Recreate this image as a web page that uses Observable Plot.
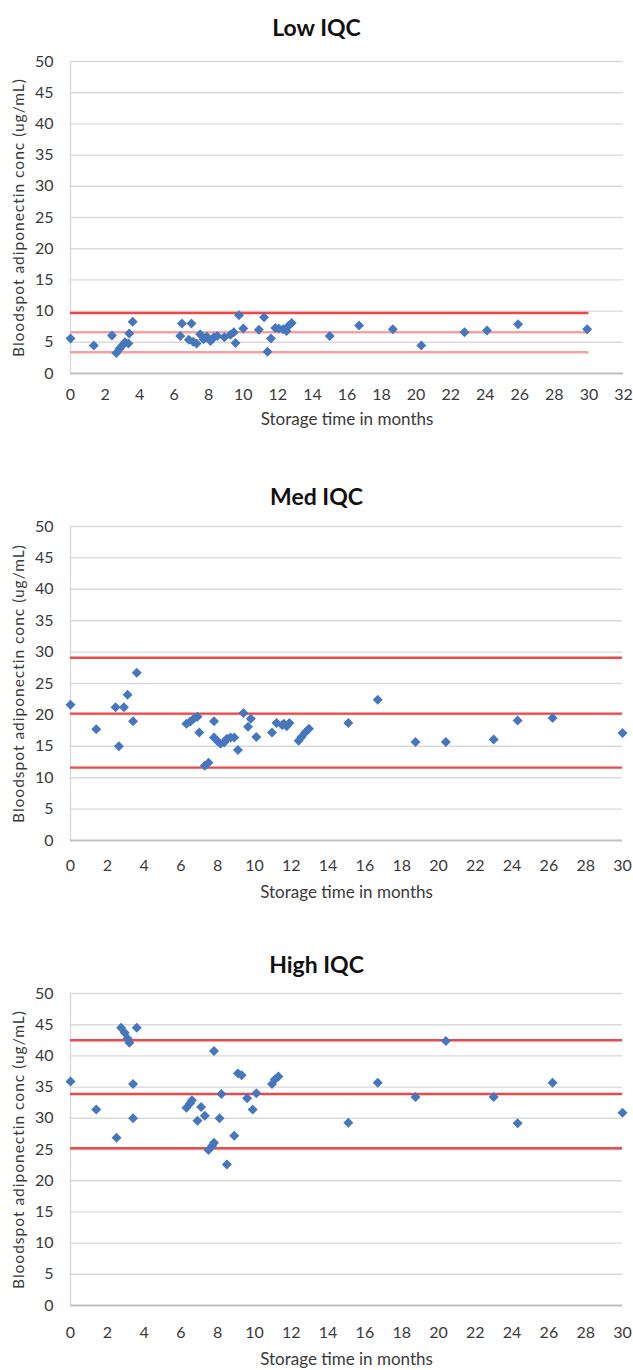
<!DOCTYPE html>
<html>
<head>
<meta charset="utf-8">
<script src="https://cdn.jsdelivr.net/npm/d3@7"></script>
<script src="https://cdn.jsdelivr.net/npm/@observablehq/plot@0.6"></script>
<style>
  body { margin: 0; background: #fff; }
  #wrap { position: relative; width: 633px; height: 1370px; font-family: Lato, "Open Sans", sans-serif; }
  .title { position: absolute; left: 0; width: 633px; text-align: center; font-weight: bold; font-size: 23px; color: #111; line-height: 1; }
  .panel { position: absolute; left: 0; }
  .ylab text { letter-spacing: 1px; }
</style>
</head>
<body>
<div id="wrap"></div>
<script>
// ---- data ----
const titles = ["Low IQC", "Med IQC", "High IQC"];
const yLabel = "Bloodspot adiponectin conc (ug/mL)";
const xLabel = "Storage time in months";
const yTicks = [0, 5, 10, 15, 20, 25, 30, 35, 40, 45, 50];
const xTicksLow = [0, 2, 4, 6, 8, 10, 12, 14, 16, 18, 20, 22, 24, 26, 28, 30, 32];
const xTicksMedHigh = [0, 2, 4, 6, 8, 10, 12, 14, 16, 18, 20, 22, 24, 26, 28, 30];

const lowX = [0, 1.35, 2.4, 2.65, 2.85, 3.0, 3.15, 3.35, 3.4, 3.6, 6.35, 6.45, 6.85, 7.0, 7.1, 7.3, 7.5, 7.7, 7.9, 8.1, 8.3, 8.5, 8.9, 9.25, 9.45, 9.55, 9.75, 10.0, 10.9, 11.2, 11.4, 11.6, 11.85, 12.05, 12.3, 12.5, 12.6, 12.8, 15.0, 16.7, 18.65, 20.3, 22.8, 24.1, 25.9, 29.9];
const lowY = [5.6, 4.5, 6.1, 3.3, 4.0, 4.5, 5.0, 4.8, 6.4, 8.3, 6.0, 8.0, 5.4, 8.0, 5.1, 4.8, 6.3, 5.5, 5.9, 5.2, 5.8, 6.0, 5.8, 6.2, 6.6, 4.9, 9.35, 7.2, 7.0, 9.0, 3.5, 5.6, 7.3, 7.2, 7.1, 6.8, 7.6, 8.1, 6.0, 7.7, 7.1, 4.5, 6.6, 6.9, 7.9, 7.1];

const medX = [0, 1.4, 2.45, 2.63, 2.9, 3.1, 3.4, 3.6, 6.3, 6.5, 6.7, 6.9, 7.0, 7.3, 7.5, 7.8, 7.8, 8.0, 8.15, 8.35, 8.5, 8.7, 8.9, 9.1, 9.4, 9.65, 9.8, 10.1, 10.95, 11.2, 11.5, 11.6, 11.75, 11.9, 12.4, 12.55, 12.75, 12.96, 15.1, 16.7, 18.75, 20.4, 23.0, 24.3, 26.2, 30.0];
const medY = [21.6, 17.7, 21.2, 15.0, 21.2, 23.2, 19.0, 26.7, 18.6, 18.9, 19.4, 19.7, 17.2, 11.9, 12.4, 19.0, 16.4, 15.8, 15.4, 15.6, 16.2, 16.4, 16.4, 14.4, 20.3, 18.1, 19.4, 16.5, 17.2, 18.7, 18.4, 18.6, 18.2, 18.7, 15.9, 16.5, 17.2, 17.8, 18.7, 22.4, 15.7, 15.7, 16.1, 19.1, 19.5, 17.1];

const highX = [0, 1.4, 2.5, 2.75, 2.95, 3.1, 3.2, 3.4, 3.4, 3.6, 6.3, 6.5, 6.6, 6.9, 7.1, 7.3, 7.5, 7.7, 7.8, 7.8, 8.1, 8.2, 8.5, 8.9, 9.1, 9.3, 9.6, 9.9, 10.1, 10.95, 11.1, 11.3, 15.1, 16.7, 18.75, 20.4, 23.0, 24.3, 26.2, 30.0];
const highY = [35.9, 31.4, 26.9, 44.5, 43.7, 42.8, 42.1, 35.5, 30.0, 44.5, 31.7, 32.4, 32.9, 29.6, 31.8, 30.4, 24.9, 25.6, 26.1, 40.8, 30.0, 33.9, 22.6, 27.2, 37.2, 36.9, 33.2, 31.4, 34.0, 35.5, 36.2, 36.7, 29.3, 35.7, 33.4, 42.4, 33.4, 29.2, 35.7, 30.9];

// control limits: upper, mean, lower
const lowLimits = [9.7, 6.6, 3.4];
const medLimits = [29.1, 20.2, 11.6];
const highLimits = [42.5, 33.9, 25.2];
const limitEnd = 30;
const lowLimitColors = ["#ec4a4a", "#f4a3a3", "#f4a3a3"];
const limitColors = ["#ec4a4a", "#ec4a4a", "#ec4a4a"];

// ---- layout ----
const panels = [
  {title: titles[0], xs: lowX, ys: lowY, limits: lowLimits, colors: lowLimitColors, xMax: 32, xTicks: xTicksLow,
   titleTop: 16, svgTop: 45, mt: 16, plotH: 312, mb: 67, mr: 10, tickPad: 15, xLabDy: 46},
  {title: titles[1], xs: medX, ys: medY, limits: medLimits, colors: limitColors, xMax: 30, xTicks: xTicksMedHigh,
   titleTop: 485, svgTop: 510, mt: 16, plotH: 314, mb: 70, mr: 11, tickPad: 19, xLabDy: 52},
  {title: titles[2], xs: highX, ys: highY, limits: highLimits, colors: limitColors, xMax: 30, xTicks: xTicksMedHigh,
   titleTop: 953, svgTop: 977, mt: 16, plotH: 312, mb: 65, mr: 11, tickPad: 21, xLabDy: 54}
];

const wrap = document.getElementById("wrap");
for (const p of panels) {
  const t = document.createElement("div");
  t.className = "title";
  t.style.top = p.titleTop + "px";
  t.textContent = p.title;
  wrap.appendChild(t);

  const pts = p.xs.map((x, i) => ({x, y: p.ys[i]}));
  const lims = p.limits.map((v, i) => ({v, c: p.colors[i]}));
  const chart = Plot.plot({
    width: 633,
    height: p.mt + p.plotH + p.mb,
    marginLeft: 70, marginRight: p.mr, marginTop: p.mt, marginBottom: p.mb,
    style: {fontFamily: "Lato, 'Open Sans', sans-serif", fontSize: "16px", color: "#3a3a3a", background: "#fff", overflow: "visible"},
    x: {domain: [0, p.xMax]},
    y: {domain: [0, 50]},
    marks: [
      Plot.ruleY(yTicks.filter(d => d > 0), {stroke: "#d9d9d9", strokeWidth: 1.4}),
      Plot.ruleX([0], {y1: 0, y2: 50, stroke: "#d9d9d9", strokeWidth: 1.4}),
      Plot.ruleY([0], {stroke: "#bfbfbf", strokeWidth: 2.2}),
      Plot.ruleY(lims, {y: "v", x1: 0, x2: limitEnd, stroke: "c", strokeWidth: 2.4}),
      Plot.dot(pts, {x: "x", y: "y", symbol: "diamond2", r: 4.5, fill: "#4677be", stroke: "none"}),
      Plot.axisY({ticks: yTicks, tickSize: 0, tickPadding: 17, label: null, fontSize: 16}),
      Plot.axisX({ticks: p.xTicks, tickSize: 0, tickPadding: p.tickPad, label: null, fontSize: 16}),
      Plot.text([xLabel], {frameAnchor: "bottom", lineAnchor: "middle", dy: p.xLabDy, fontSize: 17, fill: "#3a3a3a"}),
      Plot.text([yLabel], {frameAnchor: "left", textAnchor: "middle", lineAnchor: "middle", rotate: -90, dx: -51, fontSize: 15.5, fill: "#3a3a3a", className: "ylab"})
    ]
  });
  chart.classList.add("panel");
  chart.style.position = "absolute";
  chart.style.top = p.svgTop + "px";
  chart.style.left = "0px";
  wrap.appendChild(chart);
}
</script>
</body>
</html>
